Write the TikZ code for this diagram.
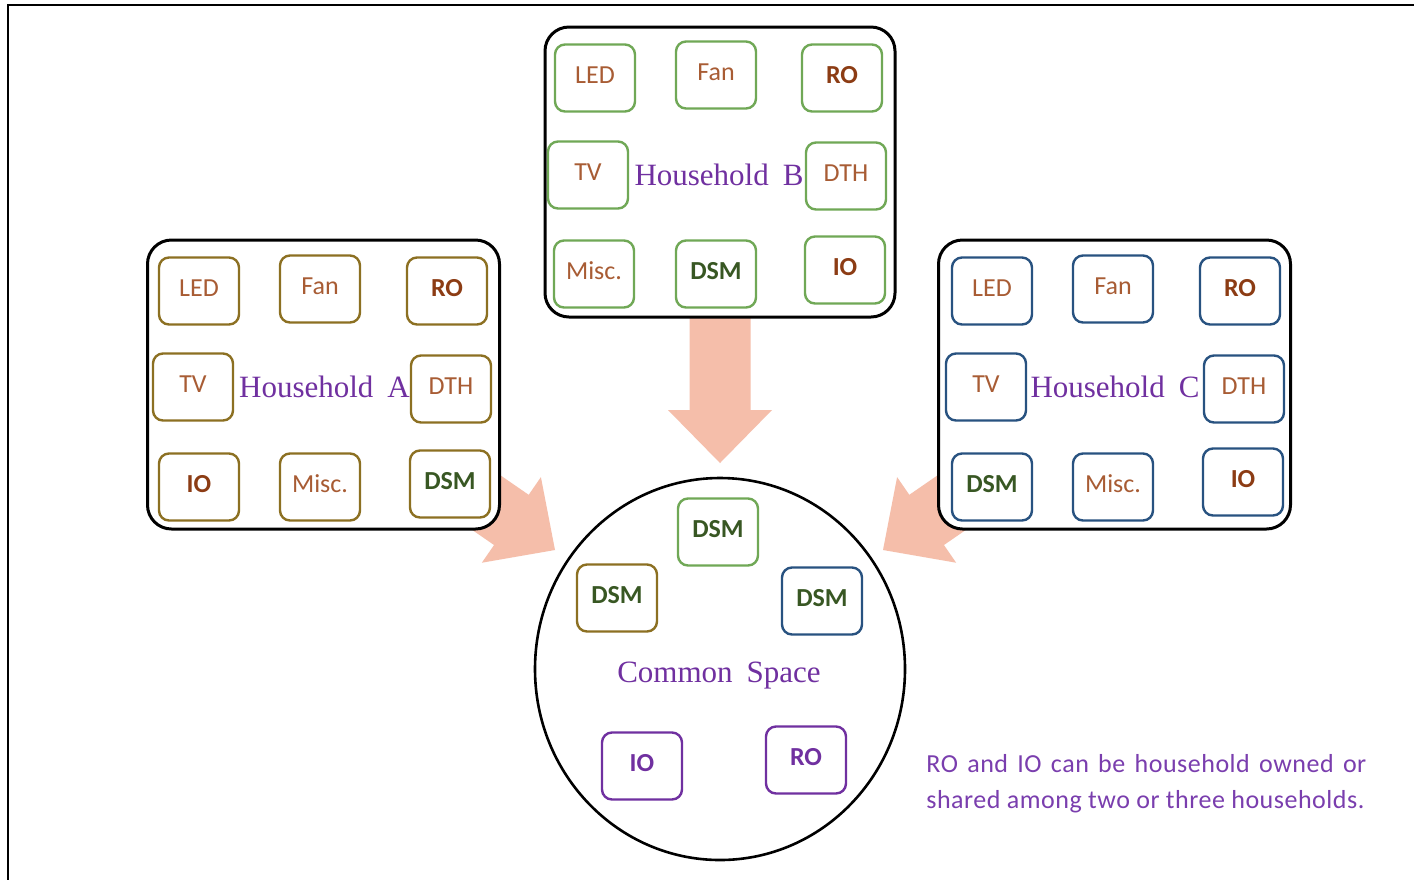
\documentclass[tikz,border=0pt]{standalone}
\usepackage{fontspec}
\usetikzlibrary{shapes.geometric}
\newfontfamily\itemfont{Carlito}
\newfontfamily\notefont[LetterSpace=2]{Carlito}
\newfontfamily\hhfont{Liberation Serif}

\definecolor{boxgreen}{RGB}{112,168,86}
\definecolor{boxgold}{RGB}{140,112,34}
\definecolor{boxblue}{RGB}{40,82,128}
\definecolor{hhpurple}{RGB}{112,48,160}
\definecolor{notepurple}{RGB}{122,62,174}
\definecolor{txtbrown}{RGB}{168,92,52}
\definecolor{txtdark}{RGB}{140,60,20}
\definecolor{txtgreen}{RGB}{56,87,35}
\definecolor{arrowfill}{RGB}{245,190,170}

% broad block arrow, tip at the origin, pointing along +x
\newcommand\blockarrow[2]{%
  \fill[arrowfill, shift={#1}, rotate=#2]
    (0,0) -- (-53,52) -- (-53,30.5) -- (-180,30.5) -- (-180,-30.5)
    -- (-53,-30.5) -- (-53,-52) -- cycle;}

\tikzset{
  house/.style={draw=black, line width=1.5pt, rounded corners=12pt, fill=white,
    minimum width=175pt, minimum height=145pt, inner sep=0pt},
  item/.style={line width=1.2pt, rounded corners=5pt, fill=white,
    minimum width=40pt, minimum height=33.5pt, inner sep=0pt,
    font=\itemfont\fontsize{13}{15}\selectfont, text height=8.4pt, text depth=3pt},
  ga/.style={item, draw=boxgold},
  gb/.style={item, draw=boxgreen},
  gc/.style={item, draw=boxblue},
  gp/.style={item, draw=hhpurple},
  plain/.style={text=txtbrown},
  strong/.style={text=txtdark, font=\itemfont\bfseries\fontsize{13}{15}\selectfont},
  dsmtxt/.style={text=txtgreen, font=\itemfont\bfseries\fontsize{13}{15}\selectfont},
  purptxt/.style={text=hhpurple, font=\itemfont\bfseries\fontsize{13}{15}\selectfont},
  hlabel/.style={text=hhpurple, font=\hhfont\fontsize{15.5}{18}\selectfont,
    anchor=base, inner sep=0pt},
  note/.style={text=notepurple, font=\notefont\fontsize{13}{15}\selectfont,
    anchor=base west, inner sep=0pt},
}

\begin{document}
\begin{tikzpicture}[x=0.5pt, y=-0.5pt]
\useasboundingbox (0,0) rectangle (1414,880);
\fill[white] (0,0) rectangle (1414,880);

% outer frame
\draw[line width=1.3pt] (1414,5) -- (8,5) -- (8,880);

% arrows towards the common space (drawn first, boxes cover their tails)
\blockarrow{(720,463)}{-90}
\blockarrow{(555,550)}{-34.6}
\blockarrow{(883,550)}{-145.4}

% Household B
\node[house] (hb) at (720,172) {};
\node[hlabel] (hbl) at (719,185) {Household\hspace{0.45em}B};
\node[gb, plain]  (bled)  at (595,78)  {LED};
\node[gb, plain]  (bfan)  at (716,75)  {Fan};
\node[gb, strong] (bro)   at (842,78)  {RO};
\node[gb, plain]  (btv)   at (588,175) {TV};
\node[gb, plain]  (bdth)  at (846,176) {DTH};
\node[gb, plain]  (bmisc) at (594,274) {Misc.};
\node[gb, dsmtxt] (bdsm)  at (716,274) {DSM};
\node[gb, strong] (bio)   at (845,270) {IO};

% Household A
\node[house, minimum width=176pt, minimum height=144.5pt] (ha) at (323.5,384.5) {};
\node[hlabel] (hal) at (324.5,397) {Household\hspace{0.45em}A};
\node[ga, plain]  (aled)  at (199,291) {LED};
\node[ga, plain]  (afan)  at (320,289) {Fan};
\node[ga, strong] (aro)   at (447,291) {RO};
\node[ga, plain]  (atv)   at (193,387) {TV};
\node[ga, plain]  (adth)  at (451,389) {DTH};
\node[ga, strong] (aio)   at (199,487) {IO};
\node[ga, plain]  (amisc) at (320,487) {Misc.};
\node[ga, dsmtxt] (adsm)  at (450,484) {DSM};

% Household C
\node[house, minimum width=176pt, minimum height=144.5pt] (hc) at (1114.5,384.5) {};
\node[hlabel] (hcl) at (1115,397) {Household\hspace{0.45em}C};
\node[gc, plain]  (cled)  at (992,291)  {LED};
\node[gc, plain]  (cfan)  at (1113,289) {Fan};
\node[gc, strong] (cro)   at (1240,291) {RO};
\node[gc, plain]  (ctv)   at (986,387)  {TV};
\node[gc, plain]  (cdth)  at (1244,389) {DTH};
\node[gc, dsmtxt] (cdsm)  at (992,487)  {DSM};
\node[gc, plain]  (cmisc) at (1113,487) {Misc.};
\node[gc, strong] (cio)   at (1243,482) {IO};

% Common space
\node[draw=black, ellipse, line width=1.3pt, fill=white, inner sep=0pt,
  minimum width=185pt, minimum height=191pt] (cs) at (720,669) {};
\node[hlabel] (csl) at (719,682) {Common\hspace{0.45em}Space};
\node[gb, dsmtxt]  (sdb) at (718,532) {DSM};
\node[ga, dsmtxt]  (sda) at (617,598) {DSM};
\node[gc, dsmtxt]  (sdc) at (822,601) {DSM};
\node[gp, purptxt] (sio) at (642,766) {IO};
\node[gp, purptxt] (sro) at (806,760) {RO};

% note, both lines set to the same measure
\node[note] (n1) at (926,772) {\makebox[220pt][s]{RO and IO can be household owned or}};
\node[note] (n2) at (926,808) {\makebox[219pt][s]{shared among two or three households.}};
\end{tikzpicture}
\end{document}
